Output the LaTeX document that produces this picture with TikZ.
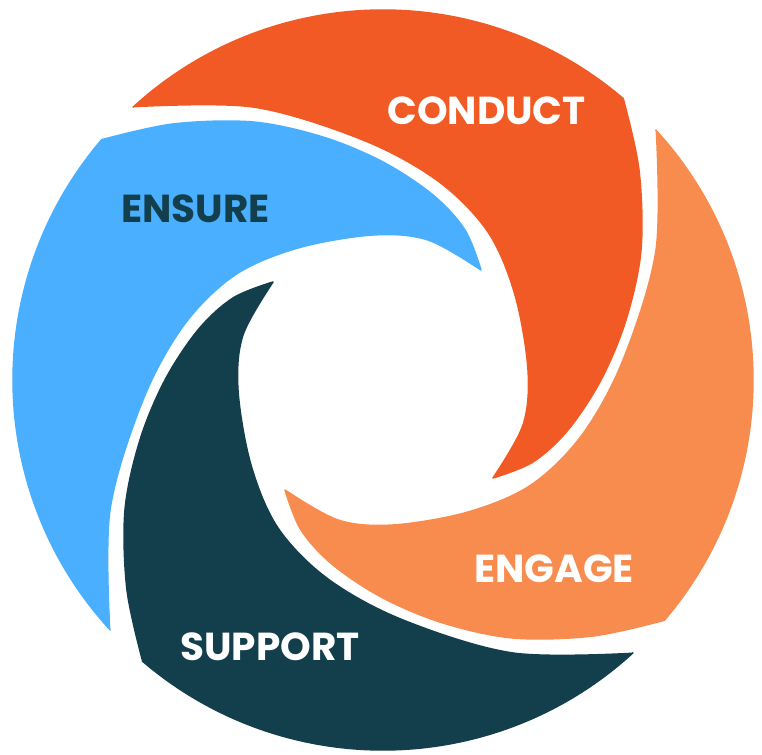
\documentclass[tikz,border=0pt]{standalone}
\usepackage{fontspec}
\newfontfamily\labelfont{Poppins}
\definecolor{conductc}{HTML}{F15A24}
\definecolor{engagec}{HTML}{F88C4F}
\definecolor{supportc}{HTML}{123F4B}
\definecolor{ensurec}{HTML}{49AFFE}
\tikzset{
  petal/.style={fill=#1, draw=#1, line width=1.5, line join=round},
  lbl/.style={font=\labelfont\bfseries\fontsize{39}{41}\selectfont, inner sep=0pt}
}
\begin{document}
\begin{tikzpicture}[x=1pt,y=1pt]
  \useasboundingbox (-383,-374) rectangle (379,380);
  % one swirl petal, turned a quarter at a time
  \foreach \ang/\col in {0/conductc, 90/ensurec, 180/supportc, 270/engagec}{
    \begin{scope}[rotate=\ang]
      \path[petal=\col]
        (132.5:370) arc[start angle=132.5, end angle=49.5, radius=370]
        -- plot[smooth, tension=0.55] coordinates {(240.3,281.3) (256,210) (258,130) (243,60) (218,0) (185,-50) (150,-82) (110,-98)}
        -- plot[smooth, tension=0.55] coordinates {(110,-98) (140,-45) (145,10) (132,85) (105,148) (55,199) (-20,240) (-130,273) (-249.4,273.3)}
        -- cycle;
    \end{scope}
  }
  \node[lbl, text=white]    (conduct) at (103.5,269.5) {CONDUCT};
  \node[lbl, text=supportc] (ensure)  at (-187.5,171)  {ENSURE};
  \node[lbl, text=white]    (support) at (-113,-266.5) {SUPPORT};
  \node[lbl, text=white]    (engage)  at (171,-188.5)  {ENGAGE};
\end{tikzpicture}
\end{document}
